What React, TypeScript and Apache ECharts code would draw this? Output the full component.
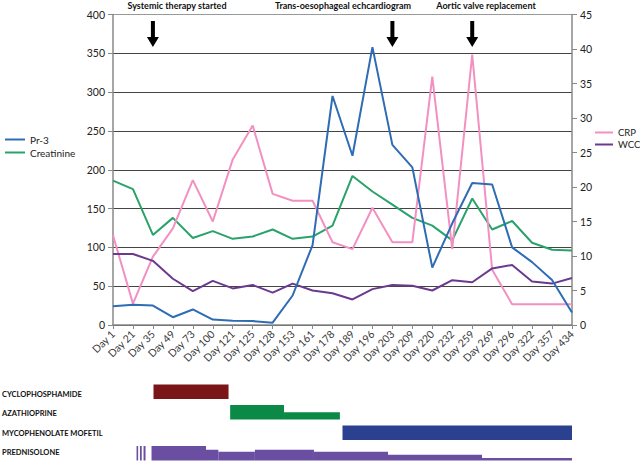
import React, { useEffect, useRef } from 'react';
import * as echarts from 'echarts';

const categories = ['Day 1', 'Day 21', 'Day 35', 'Day 49', 'Day 73', 'Day 100', 'Day 121', 'Day 125', 'Day 128', 'Day 153', 'Day 161', 'Day 178', 'Day 189', 'Day 196', 'Day 203', 'Day 209', 'Day 220', 'Day 232', 'Day 259', 'Day 269', 'Day 296', 'Day 322', 'Day 357', 'Day 434'];
const pr3 = [24, 26, 25, 10, 20, 7, 5.6, 5, 3, 38, 103, 295, 218, 358, 232, 203, 74, 131, 183, 181, 100, 81, 58, 16];
const creatinine = [186, 175, 116, 138, 112, 121, 111, 114, 123, 111, 114, 128, 192, 172, 155, 138, 128, 109, 163, 123, 134, 106, 97, 96];
const crp = [13, 3.1, 9.9, 14, 21, 15, 24, 28.9, 19, 18, 18, 12, 11, 17, 12, 12, 36, 11, 39.2, 8, 3, 3, 3, 3];
const wcc = [10.3, 10.3, 9.3, 6.7, 4.9, 6.4, 5.3, 5.8, 4.7, 6.0, 5.0, 4.6, 3.7, 5.2, 5.8, 5.7, 5.0, 6.5, 6.2, 8.2, 8.7, 6.3, 6.0, 6.8];

const leftSeriesNames = ['Pr-3', 'Creatinine'];
const rightSeriesNames = ['CRP', 'WCC'];

const annotationTexts = ['Systemic therapy started', 'Trans-oesophageal echcardiogram', 'Aortic valve replacement'];
const annotationDays = ['Day 35', 'Day 203', 'Day 259'];

const drugs = ['CYCLOPHOSPHAMIDE', 'AZATHIOPRINE', 'MYCOPHENOLATE MOFETIL', 'PREDNISOLONE'];
// segments: [start, end, relative dose] in timeline (category index) units
const cyclophosphamide = [[2.03, 5.79, 1]];
const azathioprine = [[5.87, 8.57, 1], [8.57, 11.37, 0.5]];
const mycophenolate = [[11.5, 23, 1]];
const prednisolone = [[1.18, 1.26, 1], [1.35, 1.44, 1], [1.53, 1.63, 1], [1.93, 4.66, 1], [4.66, 5.28, 0.74], [5.28, 7.11, 0.6], [7.11, 10.07, 0.74], [10.07, 13.78, 0.6], [13.78, 18.49, 0.39], [18.49, 23, 0.17]];

const FONT = 'Lato, "Liberation Sans", Arial, sans-serif';
const drugColors = ['#7a1518', '#0b8a47', '#2b4190', '#6a4ea2'];
const ARROW = 'path://M4,0 L8,0 L8,16 L12,16 L6,26 L0,16 L4,16 Z';

export default function App() {
  const ref = useRef<HTMLDivElement>(null);
  useEffect(() => {
    if (!ref.current) return;
    const chart = echarts.init(ref.current, null, { renderer: 'svg' });
    const treatmentData: number[][] = [];
    [cyclophosphamide, azathioprine, mycophenolate, prednisolone].forEach((segs, row) => {
      segs.forEach((s) => treatmentData.push([row, s[0], s[1], s[2]]));
    });
    const splitColors = ['#444', '#444', '#444', '#444', '#444', '#444', '#444', '#444', '#999'];
    const drugLabelY = [394, 413.5, 433, 452.5];
    const annX = [177, 343, 486];
    const option: any = {
      animation: false,
      backgroundColor: '#fff',
      textStyle: { fontFamily: FONT },
      legend: [
        {
          data: leftSeriesNames, orient: 'vertical', left: 0, top: 129.5, icon: 'rect',
          itemWidth: 20, itemHeight: 2, itemGap: 3,
          textStyle: { fontSize: 10, color: '#222', fontFamily: FONT },
        },
        {
          data: rightSeriesNames, orient: 'vertical', left: 595, top: 127.5, icon: 'rect',
          itemWidth: 18, itemHeight: 2, itemGap: 2, padding: 0,
          textStyle: { fontSize: 9.5, color: '#222', fontFamily: FONT },
        },
      ],
      grid: [
        { left: 113, right: 68, top: 14.5, bottom: 137 },
        { left: 113, right: 68, top: 379.5, height: 82 },
      ],
      xAxis: [
        {
          type: 'category', data: categories, boundaryGap: false, gridIndex: 0,
          axisLine: { lineStyle: { color: '#888', width: 1.5 } },
          axisTick: { length: 4, interval: 0, lineStyle: { color: '#888' } },
          axisLabel: { interval: 0, rotate: 45, fontSize: 10.5, color: '#3a3a3a', margin: 7, fontFamily: FONT },
          splitLine: { show: false },
        },
        { type: 'value', gridIndex: 1, min: 0, max: 23, show: false },
      ],
      yAxis: [
        {
          type: 'value', min: 0, max: 400, interval: 50, gridIndex: 0,
          axisLine: { show: true, lineStyle: { color: '#888', width: 1.5 } },
          axisTick: { show: true, length: 5, lineStyle: { color: '#888' } },
          axisLabel: { fontSize: 10.5, color: '#222', margin: 8, fontFamily: FONT },
          splitLine: { lineStyle: { color: splitColors, width: 1 } },
        },
        {
          type: 'value', min: 0, max: 45, interval: 5, gridIndex: 0, position: 'right',
          axisLine: { show: true, lineStyle: { color: '#888', width: 1.5 } },
          axisTick: { show: true, length: 5, lineStyle: { color: '#888' } },
          axisLabel: { fontSize: 10.5, color: '#222', margin: 8, fontFamily: FONT },
          splitLine: { show: false },
        },
        { type: 'category', gridIndex: 1, data: drugs, inverse: true, show: false },
      ],
      graphic: [
        ...annotationTexts.map((t, i) => ({
          type: 'text', x: annX[i], y: 5,
          style: { text: t, fontSize: 9, fontWeight: 'bold', fontFamily: FONT, fill: '#111', align: 'center', verticalAlign: 'middle' },
        })),
        ...drugs.map((d, i) => ({
          type: 'text', x: 2, y: drugLabelY[i],
          style: { text: d, fontSize: 7.5, fontWeight: 'bold', fontFamily: FONT, fill: '#111', align: 'left', verticalAlign: 'middle' },
        })),
      ],
      series: [
        {
          name: 'Creatinine', type: 'line', data: creatinine, xAxisIndex: 0, yAxisIndex: 0,
          symbol: 'none', color: '#2aa26b', lineStyle: { width: 2 },
        },
        {
          name: 'CRP', type: 'line', data: crp, xAxisIndex: 0, yAxisIndex: 1,
          symbol: 'none', color: '#f290c2', lineStyle: { width: 2 },
        },
        {
          name: 'WCC', type: 'line', data: wcc, xAxisIndex: 0, yAxisIndex: 1,
          symbol: 'none', color: '#6b3a8f', lineStyle: { width: 2 },
        },
        {
          name: 'Pr-3', type: 'line', data: pr3, xAxisIndex: 0, yAxisIndex: 0,
          symbol: 'none', color: '#2e6cb4', lineStyle: { width: 2 },
          markPoint: {
            silent: true,
            data: annotationDays.map((d) => ({
              coord: [categories.indexOf(d), 375],
              symbol: ARROW, symbolSize: [12, 26],
              itemStyle: { color: '#000' },
              label: { show: false },
            })),
          },
        },
        {
          type: 'custom', xAxisIndex: 1, yAxisIndex: 2, data: treatmentData,
          encode: { x: [1, 2], y: 0 },
          renderItem: (params: any, api: any) => {
            const row = api.value(0);
            const s = api.value(1);
            const e = api.value(2);
            const d = api.value(3);
            const p0 = api.coord([s, row]);
            const p1 = api.coord([e, row]);
            const band = api.size([0, 1])[1];
            const full = band * 0.707;
            const bottom = p0[1] + band * 0.45;
            const h = full * d;
            return {
              type: 'rect',
              shape: { x: p0[0], y: bottom - h, width: p1[0] - p0[0], height: h },
              style: { fill: drugColors[row] },
            };
          },
        },
      ],
    };
    chart.setOption(option);
    return () => chart.dispose();
  }, []);
  return <div ref={ref} style={{ position: 'absolute', left: 0, top: 0, width: 640, height: 462 }} />;
}
